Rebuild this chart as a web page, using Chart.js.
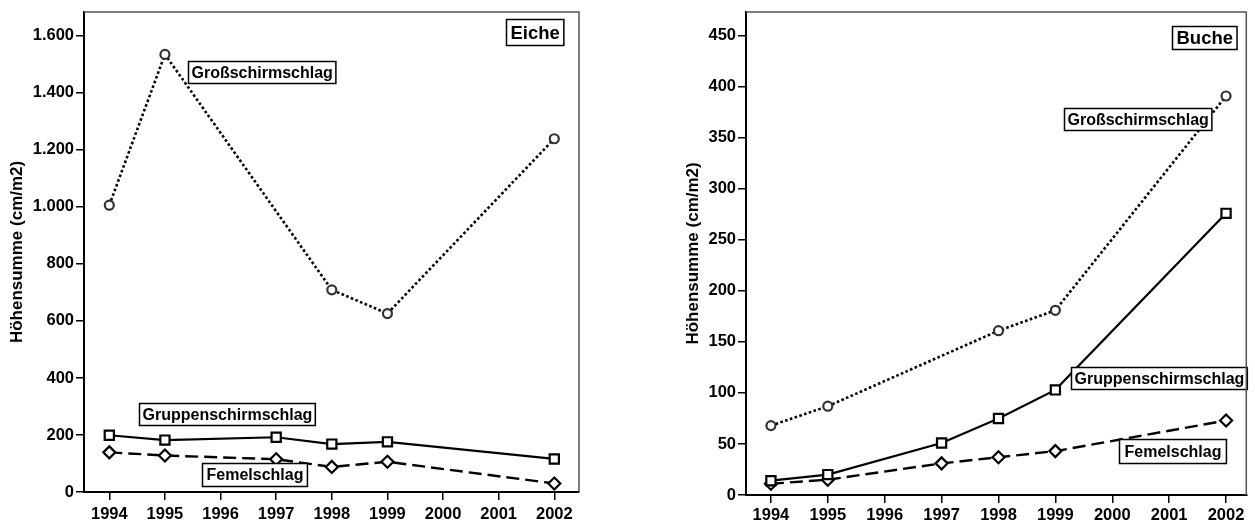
<!DOCTYPE html>
<html>
<head>
<meta charset="utf-8">
<script src="https://cdn.jsdelivr.net/npm/chart.js@4.4.1/dist/chart.umd.min.js"></script>
<style>
  html, body { margin: 0; padding: 0; background: #fff; }
  #wrap { position: relative; width: 1255px; height: 524px; overflow: hidden; }
  canvas { position: absolute; top: 0; }
  #eiche { left: 0; }
  #buche { left: 680px; }
</style>
</head>
<body>
<div id="wrap">
  <canvas id="eiche" width="600" height="524"></canvas>
  <canvas id="buche" width="575" height="524"></canvas>
</div>
<script>
// Jahre der Aufnahmen
const years = [1994, 1995, 1997, 1998, 1999, 2002];
const xTicks = [1994, 1995, 1996, 1997, 1998, 1999, 2000, 2001, 2002];

// Eiche - Höhensumme (cm/m2)
const eicheGross = [1006, 1535, 709, 626, 1239];
const eicheGrossYears = [1994, 1995, 1998, 1999, 2002];
const eicheGruppe = [199, 182, 192, 168, 176, 116];
const eicheFemel = [139, 128, 115, 88, 106, 30];
const eicheYTicks = [0, 200, 400, 600, 800, 1000, 1200, 1400, 1600];

// Buche - Höhensumme (cm/m2)
const bucheGross = [68, 87, 161, 181, 391];
const bucheGrossYears = [1994, 1995, 1998, 1999, 2002];
const bucheGruppe = [14, 20, 51, 75, 103, 276];
const bucheFemel = [11, 15, 31, 37, 43, 73];
const bucheYTicks = [0, 50, 100, 150, 200, 250, 300, 350, 400, 450];

const FONT = '"Liberation Sans", Arial, Helvetica, sans-serif';

const toPoints = (xs, ys) => xs.map((x, i) => ({ x: x, y: ys[i] }));

// dot thousands separator like 1.600
const fmtDe = v => String(v).replace(/\B(?=(\d{3})+(?!\d))/g, '.');

// boxed text labels drawn on top of the lines
const boxLabels = {
  id: 'boxLabels',
  afterDatasetsDraw(chart, args, opts) {
    const { ctx, scales: { x, y } } = chart;
    ctx.save();
    opts.items.forEach(it => {
      ctx.font = 'bold ' + it.size + 'px ' + FONT;
      const w = ctx.measureText(it.text).width + it.pad * 2;
      const px = Math.round(x.getPixelForValue(it.x)) + 0.5;
      const py = Math.round(y.getPixelForValue(it.y)) + 0.5;
      ctx.fillStyle = '#fff';
      ctx.fillRect(px, py, w, it.h);
      ctx.lineWidth = 1.5;
      ctx.strokeStyle = '#000';
      ctx.strokeRect(px, py, w, it.h);
      ctx.fillStyle = '#000';
      ctx.textBaseline = 'middle';
      ctx.textAlign = 'left';
      ctx.fillText(it.text, px + it.pad, py + it.h / 2 + 1);
    });
    ctx.restore();
  }
};

// thin top/right frame of the plot area
const frame = {
  id: 'frame',
  afterDraw(chart) {
    const { ctx, chartArea: a } = chart;
    ctx.save();
    ctx.strokeStyle = '#555';
    ctx.lineWidth = 1.5;
    ctx.beginPath();
    ctx.moveTo(a.left, a.top);
    ctx.lineTo(a.right, a.top);
    ctx.lineTo(a.right, a.bottom);
    ctx.stroke();
    ctx.restore();
  }
};

function makeDatasets(grossYears, gross, gruppe, femel) {
  return [
    {
      label: 'Großschirmschlag',
      data: toPoints(grossYears, gross),
      borderColor: '#000',
      borderWidth: 2.6,
      borderDash: [2.6, 2.4],
      pointStyle: 'circle',
      pointRadius: 4.5,
      pointBorderWidth: 2.2,
      pointBorderColor: '#333',
      pointBackgroundColor: '#fff'
    },
    {
      label: 'Gruppenschirmschlag',
      data: toPoints(years, gruppe),
      borderColor: '#000',
      borderWidth: 2.2,
      pointStyle: 'rect',
      pointRadius: 6.5,
      pointBorderWidth: 2.2,
      pointBorderColor: '#000',
      pointBackgroundColor: '#fff'
    },
    {
      label: 'Femelschlag',
      data: toPoints(years, femel),
      borderColor: '#000',
      borderWidth: 2.4,
      borderDash: [13, 6],
      pointStyle: 'rectRot',
      pointRadius: 6,
      pointBorderWidth: 2.2,
      pointBorderColor: '#000',
      pointBackgroundColor: '#fff'
    }
  ];
}

function makeChart(id, cfg) {
  return new Chart(document.getElementById(id), {
    type: 'line',
    data: { datasets: cfg.datasets },
    plugins: [boxLabels, frame],
    options: {
      responsive: false,
      animation: false,
      events: [],
      layout: { padding: { top: 10, right: cfg.padRight, bottom: 0, left: 0 } },
      elements: { line: { tension: 0 } },
      plugins: {
        legend: { display: false },
        tooltip: { enabled: false },
        boxLabels: { items: cfg.labels }
      },
      scales: {
        x: {
          type: 'linear',
          min: cfg.xMin,
          max: cfg.xMax,
          afterBuildTicks: s => { s.ticks = xTicks.map(v => ({ value: v })); },
          afterFit: s => { s.height = cfg.xHeight; },
          border: { display: true, color: '#000', width: 2 },
          grid: { drawOnChartArea: false, drawTicks: true, tickLength: 8, color: '#000', lineWidth: 1.5 },
          ticks: {
            color: '#000',
            padding: cfg.xPad,
            maxRotation: 0,
            autoSkip: false,
            font: { family: FONT, size: 16.5, weight: 'bold' },
            callback: v => String(v)
          }
        },
        y: {
          min: 0,
          max: cfg.yMax,
          afterBuildTicks: s => { s.ticks = cfg.yTicks.map(v => ({ value: v })); },
          afterFit: s => { s.width = cfg.yWidth; },
          border: { display: true, color: '#000', width: 2 },
          grid: { drawOnChartArea: false, drawTicks: true, tickLength: 8, color: '#000', lineWidth: 1.5 },
          ticks: {
            color: '#000',
            padding: 2,
            font: { family: FONT, size: 16.5, weight: 'bold' },
            callback: v => fmtDe(v)
          },
          title: {
            display: true,
            text: 'Höhensumme (cm/m2)',
            color: '#000',
            padding: { top: cfg.titlePad, bottom: 0 },
            font: { family: FONT, size: 17, weight: 'bold' }
          }
        }
      }
    }
  });
}

makeChart('eiche', {
  datasets: makeDatasets(eicheGrossYears, eicheGross, eicheGruppe, eicheFemel),
  yTicks: eicheYTicks,
  yMax: 1684,
  xMin: 1993.545,
  xMax: 2002.444,
  yWidth: 84,
  xHeight: 32,
  padRight: 21,
  xPad: 4.5,
  titlePad: 7,
  labels: [
    { text: 'Eiche', x: 2001.14, y: 1660, size: 18.5, pad: 4, h: 26 },
    { text: 'Großschirmschlag', x: 1995.41, y: 1512, size: 16, pad: 3, h: 22 },
    { text: 'Gruppenschirmschlag', x: 1994.54, y: 312, size: 16, pad: 3, h: 22 },
    { text: 'Femelschlag', x: 1995.66, y: 100, size: 16, pad: 4, h: 23 }
  ]
});

makeChart('buche', {
  datasets: makeDatasets(bucheGrossYears, bucheGross, bucheGruppe, bucheFemel),
  yTicks: bucheYTicks,
  yMax: 473.4,
  xMin: 1993.562,
  xMax: 2002.356,
  yWidth: 66,
  xHeight: 29,
  padRight: 7,
  xPad: 3,
  titlePad: 3,
  labels: [
    { text: 'Buche', x: 2001.05, y: 459.8, size: 18.5, pad: 4, h: 23 },
    { text: 'Großschirmschlag', x: 1999.15, y: 379, size: 16, pad: 3, h: 22 },
    { text: 'Gruppenschirmschlag', x: 1999.28, y: 125.9, size: 16, pad: 3, h: 22 },
    { text: 'Femelschlag', x: 2000.11, y: 54.4, size: 16, pad: 5, h: 24 }
  ]
});
</script>
</body>
</html>
